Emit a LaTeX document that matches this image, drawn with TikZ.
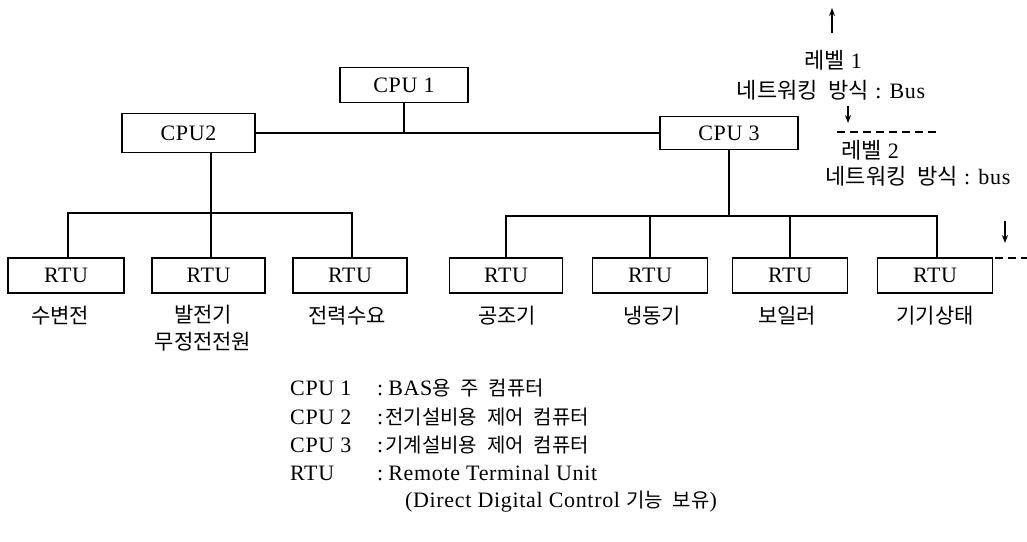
\documentclass[tikz,border=0pt]{standalone}
\usepackage{fontspec}
\setmainfont{Liberation Serif}[LetterSpace=3]
\newfontfamily\kr[WordSpace=2.2]{Noto Sans CJK KR}
\usetikzlibrary{arrows.meta}
\newcommand\K[1]{{\kr #1}}
\newcommand\KS[1]{{\kr\fontsize{20}{24}\selectfont #1}}
\begin{document}
\begin{tikzpicture}[x=1pt,y=-1pt,
  box/.style={draw, line width=1.2pt, inner sep=0pt, minimum height=35pt, font=\fontsize{22}{26}\selectfont},
  wire/.style={line width=1.2pt},
  lbl/.style={font=\fontsize{21}{27}\selectfont\kr, inner sep=0pt, align=center},
  txt/.style={font=\fontsize{22}{26}\selectfont, inner sep=0pt},
  arr/.style={line width=1.1pt, -{Stealth[length=8pt,width=6pt]}},
  dashline/.style={line width=1.2pt, dash pattern=on 8pt off 5pt}]
\useasboundingbox (0,0) rectangle (1027,541);
% CPUs
\node[box, minimum width=128pt] (cpu1) at (404,85) {CPU 1};
\node[box, minimum width=133pt, minimum height=39pt] (cpu2) at (188.5,133) {CPU2};
\node[box, minimum width=138pt, minimum height=33pt] (cpu3) at (729,133) {CPU 3};
\draw[wire] (cpu2.east) -- (cpu3.west);
\draw[wire] (cpu1.south) -- (cpu1.south |- cpu2.east);
% RTUs left
\node[box, minimum width=116pt] (r1) at (66,275.5) {RTU};
\node[box, minimum width=113pt] (r2) at (208.5,275.5) {RTU};
\node[box, minimum width=114pt] (r3) at (350,275.5) {RTU};
% RTUs right
\node[box, minimum width=113pt] (r4) at (506,275.5) {RTU};
\node[box, minimum width=115pt] (r5) at (650,275.5) {RTU};
\node[box, minimum width=115pt] (r6) at (790,275.5) {RTU};
\node[box, minimum width=115pt] (r7) at (935,275.5) {RTU};
% left bus
\coordinate (lb1) at (68,213);
\coordinate (lb3) at (352,213);
\draw[wire] (r1.north -| lb1) -- (lb1) -- (lb3) -- (r3.north -| lb3);
\draw[wire] (cpu2.south -| 211,0) -- (r2.north -| 211,0);
% right bus
\coordinate (rb1) at (506,216);
\coordinate (rb4) at (937,216);
\draw[wire] (r4.north -| rb1) -- (rb1) -- (rb4) -- (r7.north -| rb4);
\draw[wire] (cpu3.south) -- (cpu3.south |- rb1);
\draw[wire] (r5.north) -- (r5.north |- rb1);
\draw[wire] (r6.north) -- (r6.north |- rb1);
% labels under RTUs
\node[lbl] (l1) at (60,316) {수변전};
\node[lbl, anchor=north] (l2) at (203,305) {발전기\\무정전전원};
\node[lbl] (l3) at (347,316) {전력수요};
\node[lbl] (l4) at (507,316) {공조기};
\node[lbl] (l5) at (652,316) {냉동기};
\node[lbl] (l6) at (787,316) {보일러};
\node[lbl] (l7) at (935,316) {기기상태};
% level annotations
\coordinate (up0) at (832,33);
\coordinate (up1) at (832,8);
\draw[arr] (up0) -- (up1);
\node[txt] (lev1) at (833,60) {\K{레벨} 1};
\node[txt] (net1) at (831,90) {\K{네트워킹 방식} : Bus};
\coordinate (dn0) at (848,106);
\coordinate (dn1) at (848,123);
\draw[arr] (dn0) -- (dn1);
\coordinate (d1a) at (837,132);
\coordinate (d1b) at (940,132);
\draw[dashline] (d1a) -- (d1b);
\node[txt] (lev2) at (870,150) {\K{레벨} 2};
\node[txt] (net2) at (918,176) {\K{네트워킹 방식} : bus};
\coordinate (dn2a) at (1005,221);
\coordinate (dn2b) at (1005,243);
\draw[arr] (dn2a) -- (dn2b);
\coordinate (d2a) at (995,258);
\coordinate (d2b) at (1027,258);
\draw[dashline] (d2a) -- (d2b);
% legend
\node[txt, anchor=base west] (k1) at (290,395) {CPU 1};
\node[txt, anchor=base west] (k2) at (290,424) {CPU 2};
\node[txt, anchor=base west] (k3) at (290,452) {CPU 3};
\node[txt, anchor=base west] (k4) at (290,480) {RTU};
\node[txt, anchor=base west] (v1) at (377,395) {:\kern5pt BAS\KS{용 주 컴퓨터}};
\node[txt, anchor=base west] (v2) at (377,424) {:\kern2pt\KS{전기설비용 제어 컴퓨터}};
\node[txt, anchor=base west] (v3) at (377,452) {:\kern2pt\KS{기계설비용 제어 컴퓨터}};
\node[txt, anchor=base west] (v4) at (377,480) {:\kern5pt Remote Terminal Unit};
\node[txt, anchor=base west] (v5) at (405,507) {(Direct Digital Control \KS{기능 보유})};
\end{tikzpicture}
\end{document}
